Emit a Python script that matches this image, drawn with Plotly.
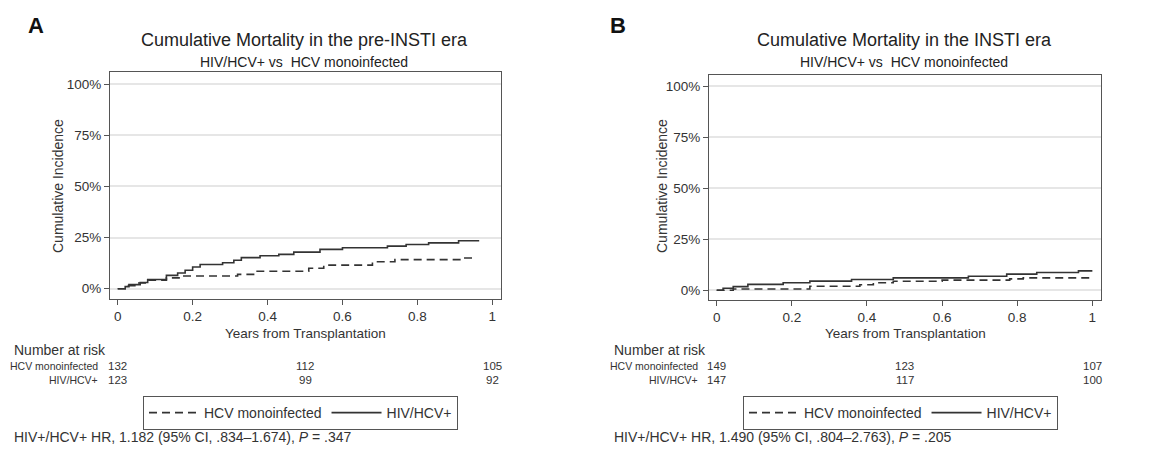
import plotly.graph_objects as go

# ---------------- data ----------------
left_hcv_t = [0, 0.02, 0.05, 0.08, 0.13, 0.17, 0.32, 0.37, 0.51, 0.55, 0.68, 0.74, 0.92, 0.95]
left_hcv_y = [0, 1.5, 2.8, 4.2, 5.3, 6.2, 7.0, 8.5, 10.0, 11.5, 13.2, 14.2, 15.0, 15.0]

left_hiv_t = [0, 0.02, 0.03, 0.06, 0.08, 0.13, 0.16, 0.18, 0.20, 0.22, 0.28, 0.31, 0.33,
              0.38, 0.43, 0.47, 0.54, 0.60, 0.72, 0.77, 0.83, 0.91, 0.965]
left_hiv_y = [0, 1.0, 2.0, 3.0, 4.5, 6.5, 7.7, 9.0, 10.6, 11.8, 12.7, 13.9, 15.2,
              16.1, 16.8, 17.9, 19.2, 20.0, 20.8, 21.6, 22.4, 23.4, 23.4]

right_hcv_t = [0, 0.044, 0.248, 0.381, 0.417, 0.47, 0.60, 0.78, 0.816, 0.995]
right_hcv_y = [0, 0.6, 2.0, 2.7, 3.7, 4.4, 5.0, 5.6, 6.1, 6.1]

right_hiv_t = [0, 0.017, 0.044, 0.083, 0.177, 0.248, 0.359, 0.47, 0.67, 0.772, 0.852, 0.963, 1.0]
right_hiv_y = [0, 1.0, 1.8, 2.9, 3.7, 4.5, 5.3, 6.1, 6.9, 7.9, 8.7, 9.5, 9.5]

risk_times = [0, 0.5, 1]
risk_left_hcv = [132, 112, 105]
risk_left_hiv = [123, 99, 92]
risk_right_hcv = [149, 123, 107]
risk_right_hiv = [147, 117, 100]

x_ticks = [0, 0.2, 0.4, 0.6, 0.8, 1]
x_tick_labels = ["0", "0.2", "0.4", "0.6", "0.8", "1"]
y_ticks = [0, 25, 50, 75, 100]
y_tick_labels = ["0%", "25%", "50%", "75%", "100%"]

series_names = ["HCV monoinfected", "HIV/HCV+"]
titles = ["Cumulative Mortality in the pre-INSTI era", "Cumulative Mortality in the INSTI era"]
subtitle = "HIV/HCV+ vs  HCV monoinfected"
panel_letters = ["A", "B"]
footers = ["HIV+/HCV+ HR, 1.182 (95% CI, .834–1.674), <i>P</i> = .347",
           "HIV+/HCV+ HR, 1.490 (95% CI, .804–2.763), <i>P</i> = .205"]

# ---------------- layout helpers ----------------
# the page body has an 8px margin, so the figure is placed at (8, 8)
OFF = 8
FIG_W, FIG_H = 1147, 442
FONT = "Liberation Sans, Arial, sans-serif"
TXT = "#333333"
LINE = "#333333"


def fx(p):
    return (p - OFF) / FIG_W


def fy(p):
    return 1 - (p - OFF) / FIG_H


fig = go.Figure()

# left panel
fig.add_trace(go.Scatter(x=left_hcv_t, y=left_hcv_y, mode="lines", line_shape="hv",
                         line=dict(color=LINE, width=1.6, dash="8px,5px"),
                         name=series_names[0], xaxis="x", yaxis="y", legend="legend"))
fig.add_trace(go.Scatter(x=left_hiv_t, y=left_hiv_y, mode="lines", line_shape="hv",
                         line=dict(color=LINE, width=1.6),
                         name=series_names[1], xaxis="x", yaxis="y", legend="legend"))
# right panel
fig.add_trace(go.Scatter(x=right_hcv_t, y=right_hcv_y, mode="lines", line_shape="hv",
                         line=dict(color=LINE, width=1.6, dash="8px,5px"),
                         name=series_names[0], xaxis="x2", yaxis="y2", legend="legend2"))
fig.add_trace(go.Scatter(x=right_hiv_t, y=right_hiv_y, mode="lines", line_shape="hv",
                         line=dict(color=LINE, width=1.6),
                         name=series_names[1], xaxis="x2", yaxis="y2", legend="legend2"))

axis_common = dict(showline=True, mirror=True, linecolor="#555555", linewidth=1.2,
                   ticks="outside", ticklen=5, tickcolor="#555555",
                   tickfont=dict(family=FONT, size=13.5, color=TXT), zeroline=False)

legend_common = dict(orientation="h", xanchor="left", yanchor="top",
                     bordercolor="#555555", borderwidth=1, bgcolor="white",
                     itemwidth=50,
                     font=dict(family=FONT, size=14, color=TXT))

fig.update_layout(
    width=FIG_W, height=FIG_H,
    margin=dict(l=0, r=0, t=0, b=0),
    paper_bgcolor="white", plot_bgcolor="white",
    font=dict(family=FONT, color=TXT),
    xaxis=dict(domain=[fx(110), fx(501)], range=[-0.0206, 1.0232],
               tickvals=x_ticks, ticktext=x_tick_labels, showgrid=False,
               anchor="y", **axis_common),
    yaxis=dict(domain=[fy(299), fy(72)], range=[-5.03, 105.9],
               tickvals=y_ticks, ticktext=y_tick_labels, showgrid=True,
               gridcolor="#e6e6e6", gridwidth=1.5, anchor="x", **axis_common),
    xaxis2=dict(domain=[fx(709), fx(1101)], range=[-0.0205, 1.023],
                tickvals=x_ticks, ticktext=x_tick_labels, showgrid=False,
                anchor="y2", **axis_common),
    yaxis2=dict(domain=[fy(300), fy(75)], range=[-4.75, 105.4],
                tickvals=y_ticks, ticktext=y_tick_labels, showgrid=True,
                gridcolor="#e6e6e6", gridwidth=1.5, anchor="x2", **axis_common),
    legend=dict(x=fx(143), y=fy(396), **legend_common),
    legend2=dict(x=fx(743), y=fy(396), **legend_common),
    showlegend=True,
)

ann = []


def add_text(text, x, y, size, xanchor="center", yanchor="middle", xref="paper",
             bold=False, color=TXT, textangle=0):
    ann.append(dict(text=("<b>%s</b>" % text) if bold else text, x=x, y=y,
                    xref=xref, yref="paper", showarrow=False, xanchor=xanchor,
                    yanchor=yanchor, textangle=textangle,
                    font=dict(family=FONT, size=size, color=color)))


panels = [
    dict(letter_x=36, title_x=304, ylab_x=58, xtitle_x=305, xref="x",
         risk_label_x=100, nar_x=12, footer_x=12,
         risk=(risk_left_hcv, risk_left_hiv)),
    dict(letter_x=618, title_x=904, ylab_x=662, xtitle_x=905, xref="x2",
         risk_label_x=700, nar_x=612, footer_x=612,
         risk=(risk_right_hcv, risk_right_hiv)),
]

for i, p in enumerate(panels):
    add_text(panel_letters[i], fx(p["letter_x"]), fy(26), 22, bold=True, color="#111111")
    add_text(titles[i], fx(p["title_x"]), fy(40), 18, color="#222222")
    add_text(subtitle, fx(p["title_x"]), fy(62), 14, color="#222222")
    add_text("Cumulative Incidence", fx(p["ylab_x"]), fy(186), 14, textangle=-90)
    add_text("Years from Transplantation", fx(p["xtitle_x"]), fy(333), 13.5)
    add_text("Number at risk", fx(p["nar_x"]), fy(350), 14, xanchor="left")
    add_text(series_names[0], fx(p["risk_label_x"]), fy(366), 10.5, xanchor="right")
    add_text(series_names[1], fx(p["risk_label_x"]), fy(380), 10.5, xanchor="right")
    for row, yy in zip(p["risk"], [366, 380]):
        for t, v in zip(risk_times, row):
            add_text(str(v), t, fy(yy), 11.5, xref=p["xref"])
    add_text(footers[i], fx(p["footer_x"]), fy(437), 14, xanchor="left")

fig.update_layout(annotations=ann)

fig.write_html("out.html")
